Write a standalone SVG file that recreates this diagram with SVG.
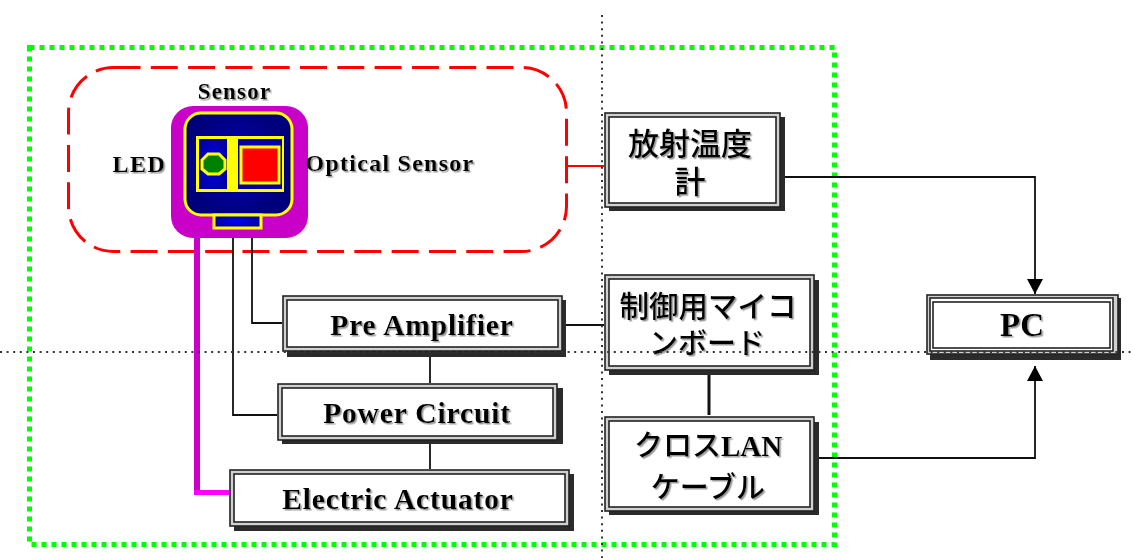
<svg xmlns="http://www.w3.org/2000/svg" width="1131" height="558" viewBox="0 0 1131 558">
<style>
.sh{fill:#2b2b2b}
.o{fill:#d0d0d0;stroke:#222;stroke-width:1.600}
.i{fill:#fff;stroke:#222;stroke-width:1.600}
.m{fill:#fff;stroke:#222;stroke-width:1.600}
.l{fill:none;stroke:#111;stroke-width:1.800}
.t{font-family:"Liberation Serif","Noto Sans CJK JP",serif;font-weight:700;fill:#000;text-anchor:middle;filter:url(#ts)}
.j{font-family:"Noto Sans CJK JP","Liberation Serif",sans-serif;font-weight:500}
.lat{font-family:"Liberation Serif",serif;font-weight:700}
.e{font-size:29.500px;letter-spacing:.85px}
.s{font-size:23px;letter-spacing:1.200px}
.d{fill:none;stroke:#333;stroke-width:2;stroke-dasharray:2 4.600}
</style>
<defs>
<filter id="ts" x="-5%" y="-20%" width="110%" height="140%"><feDropShadow dx="1.500" dy="1.500" stdDeviation="0.700" flood-color="#999"/></filter>
<radialGradient id="nv"><stop offset="0" stop-color="#0000c8"/><stop offset="1" stop-color="#00007c"/></radialGradient>
<radialGradient id="bl"><stop offset="0" stop-color="#0000ff"/><stop offset="1" stop-color="#0000a8"/></radialGradient>
<marker id="ah" markerUnits="userSpaceOnUse" markerWidth="16" markerHeight="17" refX="15" refY="8" orient="auto"><path d="M0 0L15 8L0 16Z" fill="#000"/></marker>
</defs>
<rect width="1131" height="558" fill="#fff"/>
<g id="green-frame"><rect x="29.500" y="47.500" width="805" height="497" fill="none" stroke="#0f0" stroke-width="5" stroke-dasharray="5 5"/></g>
<g id="sensor-zone"><rect x="68.500" y="67.500" width="498" height="184" rx="45" fill="none" stroke="#f00" stroke-width="3" stroke-dasharray="27 10.300"/></g>
<g id="connectors">
<path d="M197 238V492" fill="none" stroke="#c800c8" stroke-width="6"/>
<path d="M194 492.500H229" fill="none" stroke="#f0f" stroke-width="5"/>
<path class="l" d="M233 229V415H277"/>
<path class="l" d="M252 229V323H282"/>
<path class="l" d="M430 357V383"/>
<path class="l" d="M430 444V469"/>
<path class="l" d="M566 325H604"/>
<path class="l" d="M709 375V415" style="stroke-width:3"/>
<path d="M567 166H604" fill="none" stroke="#f00" stroke-width="1.800"/>
<path class="l" d="M785 177H1035V294" marker-end="url(#ah)"/>
<path class="l" d="M819 458H1035V366" marker-end="url(#ah)"/>
</g>
<g id="sensor">
<rect x="171" y="106" width="137" height="132" rx="22" fill="#c800c8"/>
<rect x="185" y="113" width="107" height="102" rx="16" fill="url(#nv)" stroke="#ff0" stroke-width="3"/>
<rect x="196" y="136" width="88" height="56" fill="#ff0"/>
<rect x="199" y="139" width="28" height="50" fill="url(#bl)"/>
<rect x="238" y="139" width="44" height="50" fill="url(#bl)"/>
<rect x="241" y="147" width="38" height="36" fill="#f00" stroke="#ff0" stroke-width="3"/>
<path d="M208 154H219L225 160V169L219 174H208L202 169V160Z" fill="#008000" stroke="#ff0" stroke-width="3"/>
<rect x="214" y="215" width="47" height="13" fill="url(#bl)" stroke="#ff0" stroke-width="3"/>
<text class="t s" x="234.500" y="99">Sensor</text>
<text class="t" x="139.500" y="172" font-size="24" letter-spacing="1.500">LED</text>
<text class="t" x="390" y="171" font-size="24" letter-spacing="1.250">Optical Sensor</text>
</g>
<g id="radiation-thermometer">
<rect class="sh" x="609" y="117" width="176" height="94"/>
<rect class="o" x="605" y="113" width="175" height="94"/>
<rect class="i" x="609" y="117" width="167" height="86"/>
<text class="t j" x="690" y="155" font-size="31">放射温度</text>
<text class="t j" x="690" y="193" font-size="31">計</text>
</g>
<g id="microcontroller-board">
<rect class="sh" x="609" y="280" width="210" height="95"/>
<rect class="o" x="605" y="275" width="209" height="95"/>
<rect class="i" x="609" y="279" width="201" height="87"/>
<text class="t j" x="708" y="317" font-size="29.500">制御用マイコ</text>
<text class="t j" x="707" y="354" font-size="29">ンボード</text>
</g>
<g id="cross-lan-cable">
<rect class="sh" x="609" y="422" width="210" height="93"/>
<rect class="o" x="605" y="417" width="209" height="94"/>
<rect class="i" x="609" y="421" width="201" height="86"/>
<text class="t j" x="708" y="456" font-size="29">クロス<tspan class="lat">LAN</tspan></text>
<text class="t j" x="708" y="498" font-size="29">ケーブル</text>
</g>
<g id="pre-amplifier">
<rect class="sh" x="287" y="300" width="279" height="57"/>
<rect class="o" x="283" y="296" width="279" height="55"/>
<rect class="i" x="287" y="300" width="271" height="47"/>
<text class="t e" x="422" y="335">Pre Amplifier</text>
</g>
<g id="power-circuit">
<rect class="sh" x="282" y="388" width="281" height="56"/>
<rect class="o" x="278" y="384" width="279" height="56"/>
<rect class="i" x="282" y="388" width="271" height="48"/>
<text class="t e" x="417" y="423">Power Circuit</text>
</g>
<g id="electric-actuator">
<rect class="sh" x="234" y="474" width="340" height="57"/>
<rect class="o" x="230" y="470" width="339" height="56"/>
<rect class="i" x="234" y="474" width="331" height="48"/>
<text class="t e" x="398" y="509">Electric Actuator</text>
</g>
<g id="pc">
<rect class="sh" x="930" y="298" width="191" height="62"/>
<rect class="o" x="927" y="295" width="191" height="59"/>
<rect class="m" x="930" y="298" width="183" height="53"/>
<rect class="i" x="933" y="302" width="177" height="46"/>
<text class="t" x="1022" y="336" font-size="33">PC</text>
</g>
<g id="guides">
<path class="d" d="M602 15V558"/>
<path class="d" d="M0 352H1131"/>
</g>
</svg>
